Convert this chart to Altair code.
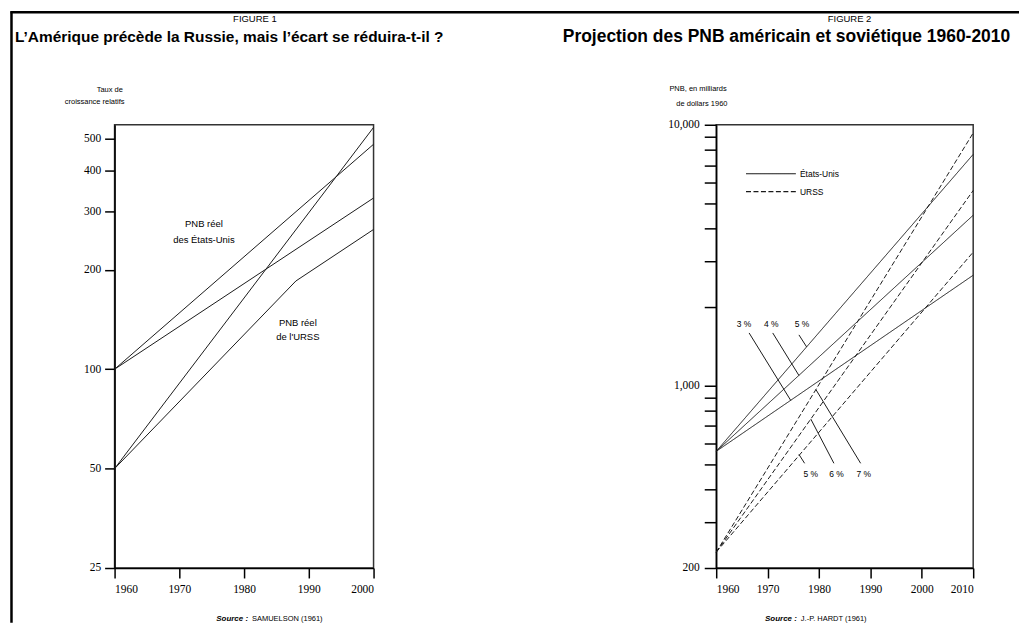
import altair as alt
import pandas as pd

# ---------------- Figure 1 data (relative growth, log scale) ----------------
f1_years = [1960, 2000]
f1_us_a = [100, 480]
f1_us_b = [100, 330]
f1_ussr_a = [50, 540]
f1_ussr_b_years = [1960, 1988, 2000]
f1_ussr_b = [50, 185, 265]
f1_yticks = [25, 50, 100, 200, 300, 400, 500]
f1_xticks = [1960, 1970, 1980, 1990, 2000]

f1_notes = ["PNB réel", "des États-Unis", "PNB réel", "de l'URSS"]
f1_note_year = [1973.8, 1973.8, 1988.3, 1988.3]
f1_note_value = [275, 246, 138.5, 125]

# ---------------- Figure 2 data (GNP projections, billions 1960 $) ----------------
f2_years = [1960, 2010]
f2_us_3 = [560, 2650]
f2_us_4 = [560, 4500]
f2_us_5 = [560, 7700]
f2_ussr_5 = [230, 3250]
f2_ussr_6 = [230, 5600]
f2_ussr_7 = [230, 9300]
f2_xticks = [1960, 1970, 1980, 1990, 2000, 2010]
f2_yticks = [200, 300, 400, 500, 600, 700, 800, 900, 1000,
             2000, 3000, 4000, 5000, 6000, 7000, 8000, 9000, 10000]

f2_pct = ["3 %", "4 %", "5 %", "5 %", "6 %", "7 %"]
f2_pct_year = [1965.4, 1970.7, 1976.7, 1978.4, 1983.4, 1988.7]
f2_pct_value = [1722, 1722, 1722, 457, 457, 457]
f2_lead_from_year = [1966.4, 1971.0, 1976.1, 1977.2, 1982.9, 1988.1]
f2_lead_from_value = [1592, 1592, 1565, 504, 504, 504]
f2_lead_to_year = [1974.5, 1976.1, 1977.6, 1976.1, 1978.4, 1979.4]
f2_lead_to_value = [878, 1094, 1407, 545, 745, 966]

f2_legend_names = ["États-Unis", "URSS"]
f2_legend_x0 = [1965.8, 1965.8]
f2_legend_x1 = [1975.5, 1975.5]
f2_legend_value = [6490, 5545]
f2_legend_text_x = [1976.3, 1976.3]

SANS = "Liberation Sans"
SERIF = "Liberation Serif"
INK = "#1a1a1a"


def rows(series, years, values, country):
    return [{"series": series, "year": y, "value": v, "pays": country}
            for y, v in zip(years, values)]


df1 = pd.DataFrame(
    rows("us_a", f1_years, f1_us_a, "États-Unis")
    + rows("us_b", f1_years, f1_us_b, "États-Unis")
    + rows("ussr_a", f1_years, f1_ussr_a, "URSS")
    + rows("ussr_b", f1_ussr_b_years, f1_ussr_b, "URSS")
)
df2 = pd.DataFrame(
    rows("us3", f2_years, f2_us_3, "États-Unis")
    + rows("us4", f2_years, f2_us_4, "États-Unis")
    + rows("us5", f2_years, f2_us_5, "États-Unis")
    + rows("su5", f2_years, f2_ussr_5, "URSS")
    + rows("su6", f2_years, f2_ussr_6, "URSS")
    + rows("su7", f2_years, f2_ussr_7, "URSS")
)


def ptext(s, x, y, size=8, weight="normal", style="normal", align="left", font=SANS):
    return alt.Chart(pd.DataFrame({"t": [s]})).mark_text(
        font=font, fontSize=size, fontWeight=weight, fontStyle=style,
        align=align, baseline="middle", color="black"
    ).encode(x=alt.value(x), y=alt.value(y), text="t:N")


# ---------------- Panel 1 ----------------
x1s = alt.Scale(domain=[1960, 2000], nice=False, zero=False)
y1s = alt.Scale(type="log", domain=[25, 550], nice=False)
x1 = alt.X("year:Q", scale=x1s,
           axis=alt.Axis(values=f1_xticks, format="d", title=None, labelPadding=6))
y1 = alt.Y("value:Q", scale=y1s,
           axis=alt.Axis(values=f1_yticks, format="d", title=None, labelPadding=4))

lines1 = alt.Chart(df1).mark_line(color=INK, strokeWidth=1).encode(
    x=x1, y=y1, detail="series:N")

notes1 = alt.Chart(pd.DataFrame({"t": f1_notes, "year": f1_note_year, "value": f1_note_value})
                   ).mark_text(font=SANS, fontSize=9.5, color="black", align="center",
                               baseline="middle").encode(
    x=alt.X("year:Q", scale=x1s), y=alt.Y("value:Q", scale=y1s), text="t:N")

frame_left = alt.Chart(pd.DataFrame({"a": [0]})).mark_rule(color="black", strokeWidth=2.5).encode(
    x=alt.value(-103.5), y=alt.value(-114), y2=alt.value(500))
frame_top = alt.Chart(pd.DataFrame({"a": [0]})).mark_rule(color="black", strokeWidth=2.5).encode(
    x=alt.value(-104.5), x2=alt.value(908), y=alt.value(-113))

p1 = alt.layer(
    lines1, notes1, frame_left, frame_top,
    ptext("FIGURE 1", 119, -106, size=9.5),
    ptext("L’Amérique précède la Russie, mais l’écart se réduira-t-il ?", -100, -88,
          size=15.5, weight="bold"),
    ptext("Taux de", -18, -35, size=7.5),
    ptext("croissance relatifs", -50, -23, size=7.5),
    ptext("Source :", 134, 496, size=8, weight="bold", style="italic", align="right"),
    ptext("SAMUELSON (1961)", 138, 496, size=7.5),
).properties(width=260, height=445)

# ---------------- Panel 2 ----------------
x2s = alt.Scale(domain=[1960, 2010], nice=False, zero=False)
y2s = alt.Scale(type="log", domain=[200, 10000], nice=False)
x2 = alt.X("year:Q", scale=x2s,
           axis=alt.Axis(values=f2_xticks, format="d", title=None, labelPadding=6))
y2 = alt.Y("value:Q", scale=y2s,
           axis=alt.Axis(values=f2_yticks, title=None, tickSize=12, labelPadding=5,
                         labelExpr="(datum.value == 200 || datum.value == 1000 || datum.value == 10000) ? format(datum.value, ',') : ''"))
dash = alt.StrokeDash("pays:N", scale=alt.Scale(domain=["États-Unis", "URSS"],
                                                range=[[1, 0], [5, 2.5]]), legend=None)

lines2 = alt.Chart(df2).mark_line(color=INK, strokeWidth=1).encode(
    x=x2, y=y2, detail="series:N", strokeDash=dash)

pct = alt.Chart(pd.DataFrame({"t": f2_pct, "year": f2_pct_year, "value": f2_pct_value})
                ).mark_text(font=SANS, fontSize=8.5, color="black", align="center",
                            baseline="middle").encode(
    x=alt.X("year:Q", scale=x2s), y=alt.Y("value:Q", scale=y2s), text="t:N")

leaders = alt.Chart(pd.DataFrame({
    "x0": f2_lead_from_year, "y0": f2_lead_from_value,
    "x1": f2_lead_to_year, "y1": f2_lead_to_value})).mark_rule(color=INK, strokeWidth=1).encode(
    x=alt.X("x0:Q", scale=x2s), y=alt.Y("y0:Q", scale=y2s), x2="x1:Q", y2="y1:Q")

leg_df = pd.DataFrame({"name": f2_legend_names, "x0": f2_legend_x0, "x1": f2_legend_x1,
                       "v": f2_legend_value, "tx": f2_legend_text_x})
leg_lines = alt.Chart(leg_df).mark_rule(color=INK, strokeWidth=1.2).encode(
    x=alt.X("x0:Q", scale=x2s), x2="x1:Q", y=alt.Y("v:Q", scale=y2s),
    strokeDash=alt.StrokeDash("name:N", scale=alt.Scale(domain=["États-Unis", "URSS"],
                                                          range=[[1, 0], [7, 3]]), legend=None))
leg_text = alt.Chart(leg_df).mark_text(font=SANS, fontSize=8.5, color="black", align="left",
                                       baseline="middle").encode(
    x=alt.X("tx:Q", scale=x2s), y=alt.Y("v:Q", scale=y2s), text="name:N")

p2 = alt.layer(
    lines2, pct, leaders, leg_lines, leg_text,
    ptext("FIGURE 2", 112, -106, size=9.5),
    ptext("Projection des PNB américain et soviétique 1960-2010", -154, -88,
          size=17.5, weight="bold"),
    ptext("PNB, en milliards", -47, -36, size=7.5),
    ptext("de dollars 1960", -40, -21, size=7.5),
    ptext("Source :", 81, 496, size=8, weight="bold", style="italic", align="right"),
    ptext("J.-P. HARDT (1961)", 85, 496, size=7.5),
).properties(width=258, height=445)

chart = alt.hconcat(p1, p2, spacing=344, bounds="flush").properties(
    padding=0
).configure_view(
    stroke="#333", strokeWidth=1.5
).configure_axis(
    grid=False, domainColor="black", domainWidth=1.5, tickColor="black", tickWidth=1.5,
    tickSize=10, labelFont=SERIF, labelFontSize=11.5, labelColor="black"
)

chart.save("out.html", embed_options={"renderer": "svg", "actions": False})
